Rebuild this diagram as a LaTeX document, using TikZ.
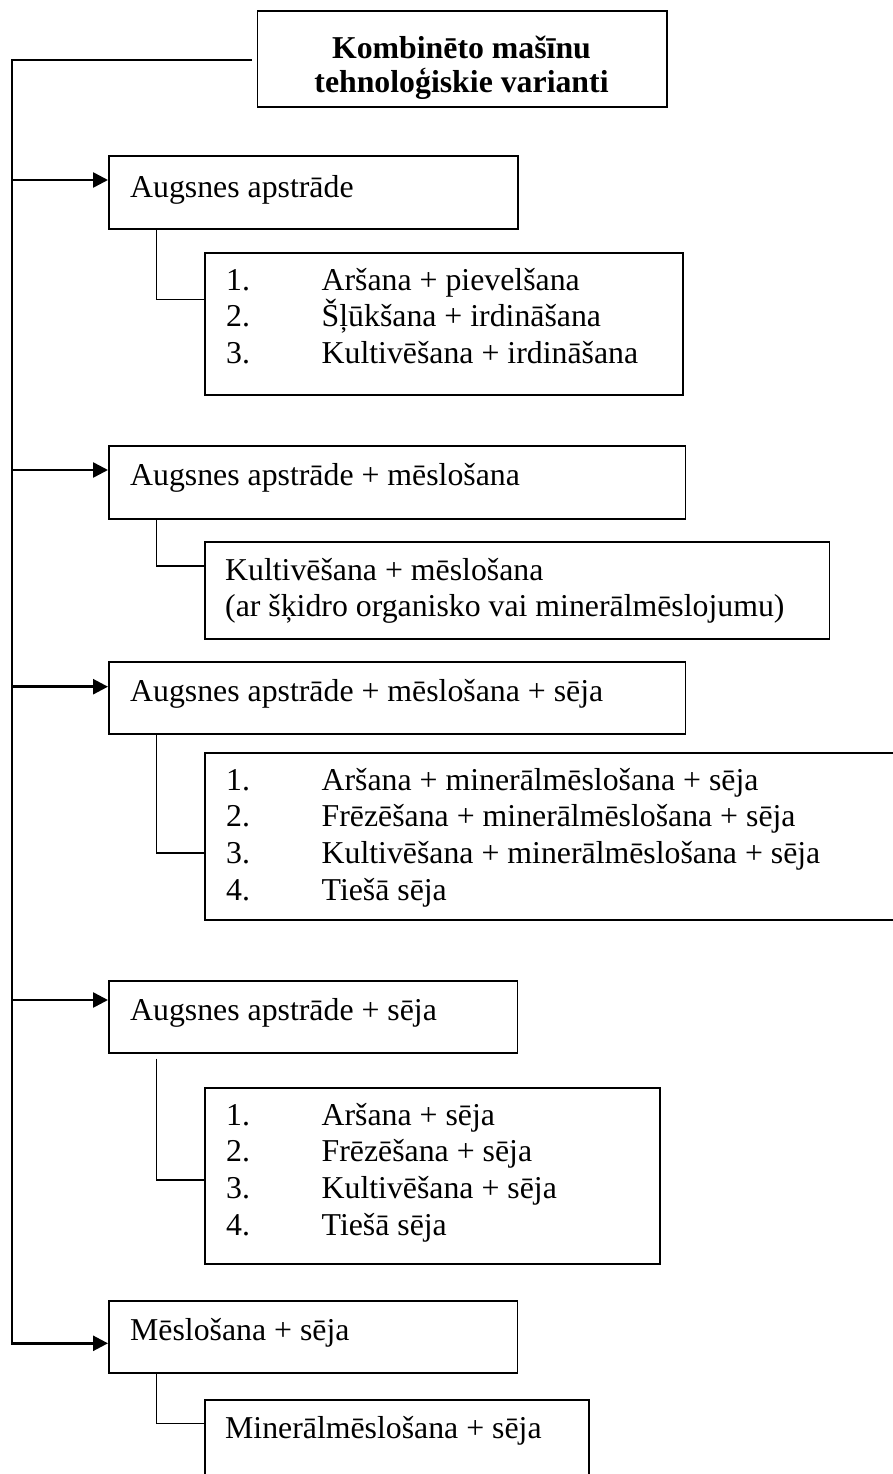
\documentclass[tikz,border=0pt]{standalone}
\usepackage{fontspec}
\setmainfont{Liberation Serif}
\usetikzlibrary{arrows.meta}
\newcommand\lvitem[2]{\smash{\makebox[95.5pt][l]{#1}#2}}
\begin{document}
\begin{tikzpicture}[x=1pt,y=-1pt,
  box/.style={draw, line width=1.8pt, rectangle, inner sep=0pt, anchor=north west},
  txt/.style={inner sep=0pt, anchor=base west, font=\fontsize{31.8}{36.7}\selectfont},
  link/.style={line width=1.6pt},
  trunk/.style={line width=1.9pt, line join=miter},
  feed/.style={line width=2.6pt, -{Triangle[length=15pt,width=15pt]}}]
\useasboundingbox (0,0) rectangle (893,1474);
\clip (0,0) rectangle (893,1474);

% boxes
\node[box, minimum width=409.5pt, minimum height=96pt] (top) at (256.5,10) {};
\node[box, minimum width=409pt, minimum height=73pt] (b1) at (108,155) {};
\node[box, minimum width=478pt, minimum height=142.3pt] (s1) at (204,251.7) {};
\node[box, minimum width=576.5pt, minimum height=73pt] (b2) at (108,445) {};
\node[box, minimum width=624.6pt, minimum height=96.7pt] (s2) at (204,541) {};
\node[box, minimum width=576.5pt, minimum height=72.6pt] (b3) at (108,660.7) {};
\node[box, minimum width=720pt, minimum height=167.3pt] (s3) at (204,751.7) {};
\node[box, minimum width=408.5pt, minimum height=71.7pt] (b4) at (108,980) {};
\node[box, minimum width=455pt, minimum height=176.3pt] (s4) at (204,1086.7) {};
\node[box, minimum width=408.5pt, minimum height=72.3pt] (b5) at (108,1300) {};
\node[box, minimum width=384pt, minimum height=100pt] (s5) at (204,1399.3) {};

% texts
\node[txt, anchor=base, font=\fontsize{31.8}{30}\selectfont\bfseries] (t0) at (461.5,59)
  {\begin{tabular}[t]{@{}c@{}}Kombinēto mašīnu\\ tehnoloģiskie varianti\end{tabular}};
\node[txt] (t1) at (130,197) {Augsnes apstrāde};
\node[txt] (u1) at (226,290) {\begin{tabular}[t]{@{}l@{}}
  \lvitem{1.}{Aršana + pievelšana}\\
  \lvitem{2.}{Šļūkšana + irdināšana}\\
  \lvitem{3.}{Kultivēšana + irdināšana}\end{tabular}};
\node[txt] (t2) at (130,485.5) {Augsnes apstrāde + mēslošana};
\node[txt] (u2) at (225,580) {\begin{tabular}[t]{@{}l@{}}
  \smash{Kultivēšana + mēslošana}\\
  \smash{(ar šķidro organisko vai minerālmēslojumu)}\end{tabular}};
\node[txt] (t3) at (130,701.7) {Augsnes apstrāde + mēslošana + sēja};
\node[txt] (u3) at (226,790) {\begin{tabular}[t]{@{}l@{}}
  \lvitem{1.}{Aršana + minerālmēslošana + sēja}\\
  \lvitem{2.}{Frēzēšana + minerālmēslošana + sēja}\\
  \lvitem{3.}{Kultivēšana + minerālmēslošana + sēja}\\
  \lvitem{4.}{Tiešā sēja}\end{tabular}};
\node[txt] (t4) at (130,1020) {Augsnes apstrāde + sēja};
\node[txt] (u4) at (226,1125) {\begin{tabular}[t]{@{}l@{}}
  \lvitem{1.}{Aršana + sēja}\\
  \lvitem{2.}{Frēzēšana + sēja}\\
  \lvitem{3.}{Kultivēšana + sēja}\\
  \lvitem{4.}{Tiešā sēja}\end{tabular}};
\node[txt] (t5) at (130,1340) {Mēslošana + sēja};
\node[txt] (u5) at (225,1438) {Minerālmēslošana + sēja};

% trunk and feeds
\coordinate (c0) at (12.3,60);
\coordinate (c5) at (12.3,1343.3);
\coordinate (a1) at (12.3,180);
\coordinate (a2) at (12.3,470);
\coordinate (a3) at (12.3,686.7);
\coordinate (a4) at (12.3,1000);
\draw[trunk, shorten <=4.5pt] (top.west |- c0) -- (c0) -- ([yshift=-1.3pt]c5);
\draw[feed] (a1) -- (a1 -| b1.west);
\draw[feed] (a2) -- (a2 -| b2.west);
\draw[feed] (a3) -- (a3 -| b3.west);
\draw[feed] (a4) -- (a4 -| b4.west);
\draw[feed] ([xshift=-0.95pt]c5) -- (c5 -| b5.west);

% sub connectors
\coordinate (k1) at (156.6,299.5);
\coordinate (k2) at (156.6,565.7);
\coordinate (k3) at (156.6,853);
\coordinate (k4) at (156.6,1180);
\coordinate (k5) at (156.6,1423.3);
\draw[link] (b1.south -| k1) -- (k1) -- (k1 -| s1.west);
\draw[link] (b2.south -| k2) -- (k2) -- (k2 -| s2.west);
\draw[link] (b3.south -| k3) -- (k3) -- (k3 -| s3.west);
\draw[link, shorten <=5pt] (b4.south -| k4) -- (k4) -- (k4 -| s4.west);
\draw[link] (b5.south -| k5) -- (k5) -- (k5 -| s5.west);
\end{tikzpicture}
\end{document}
